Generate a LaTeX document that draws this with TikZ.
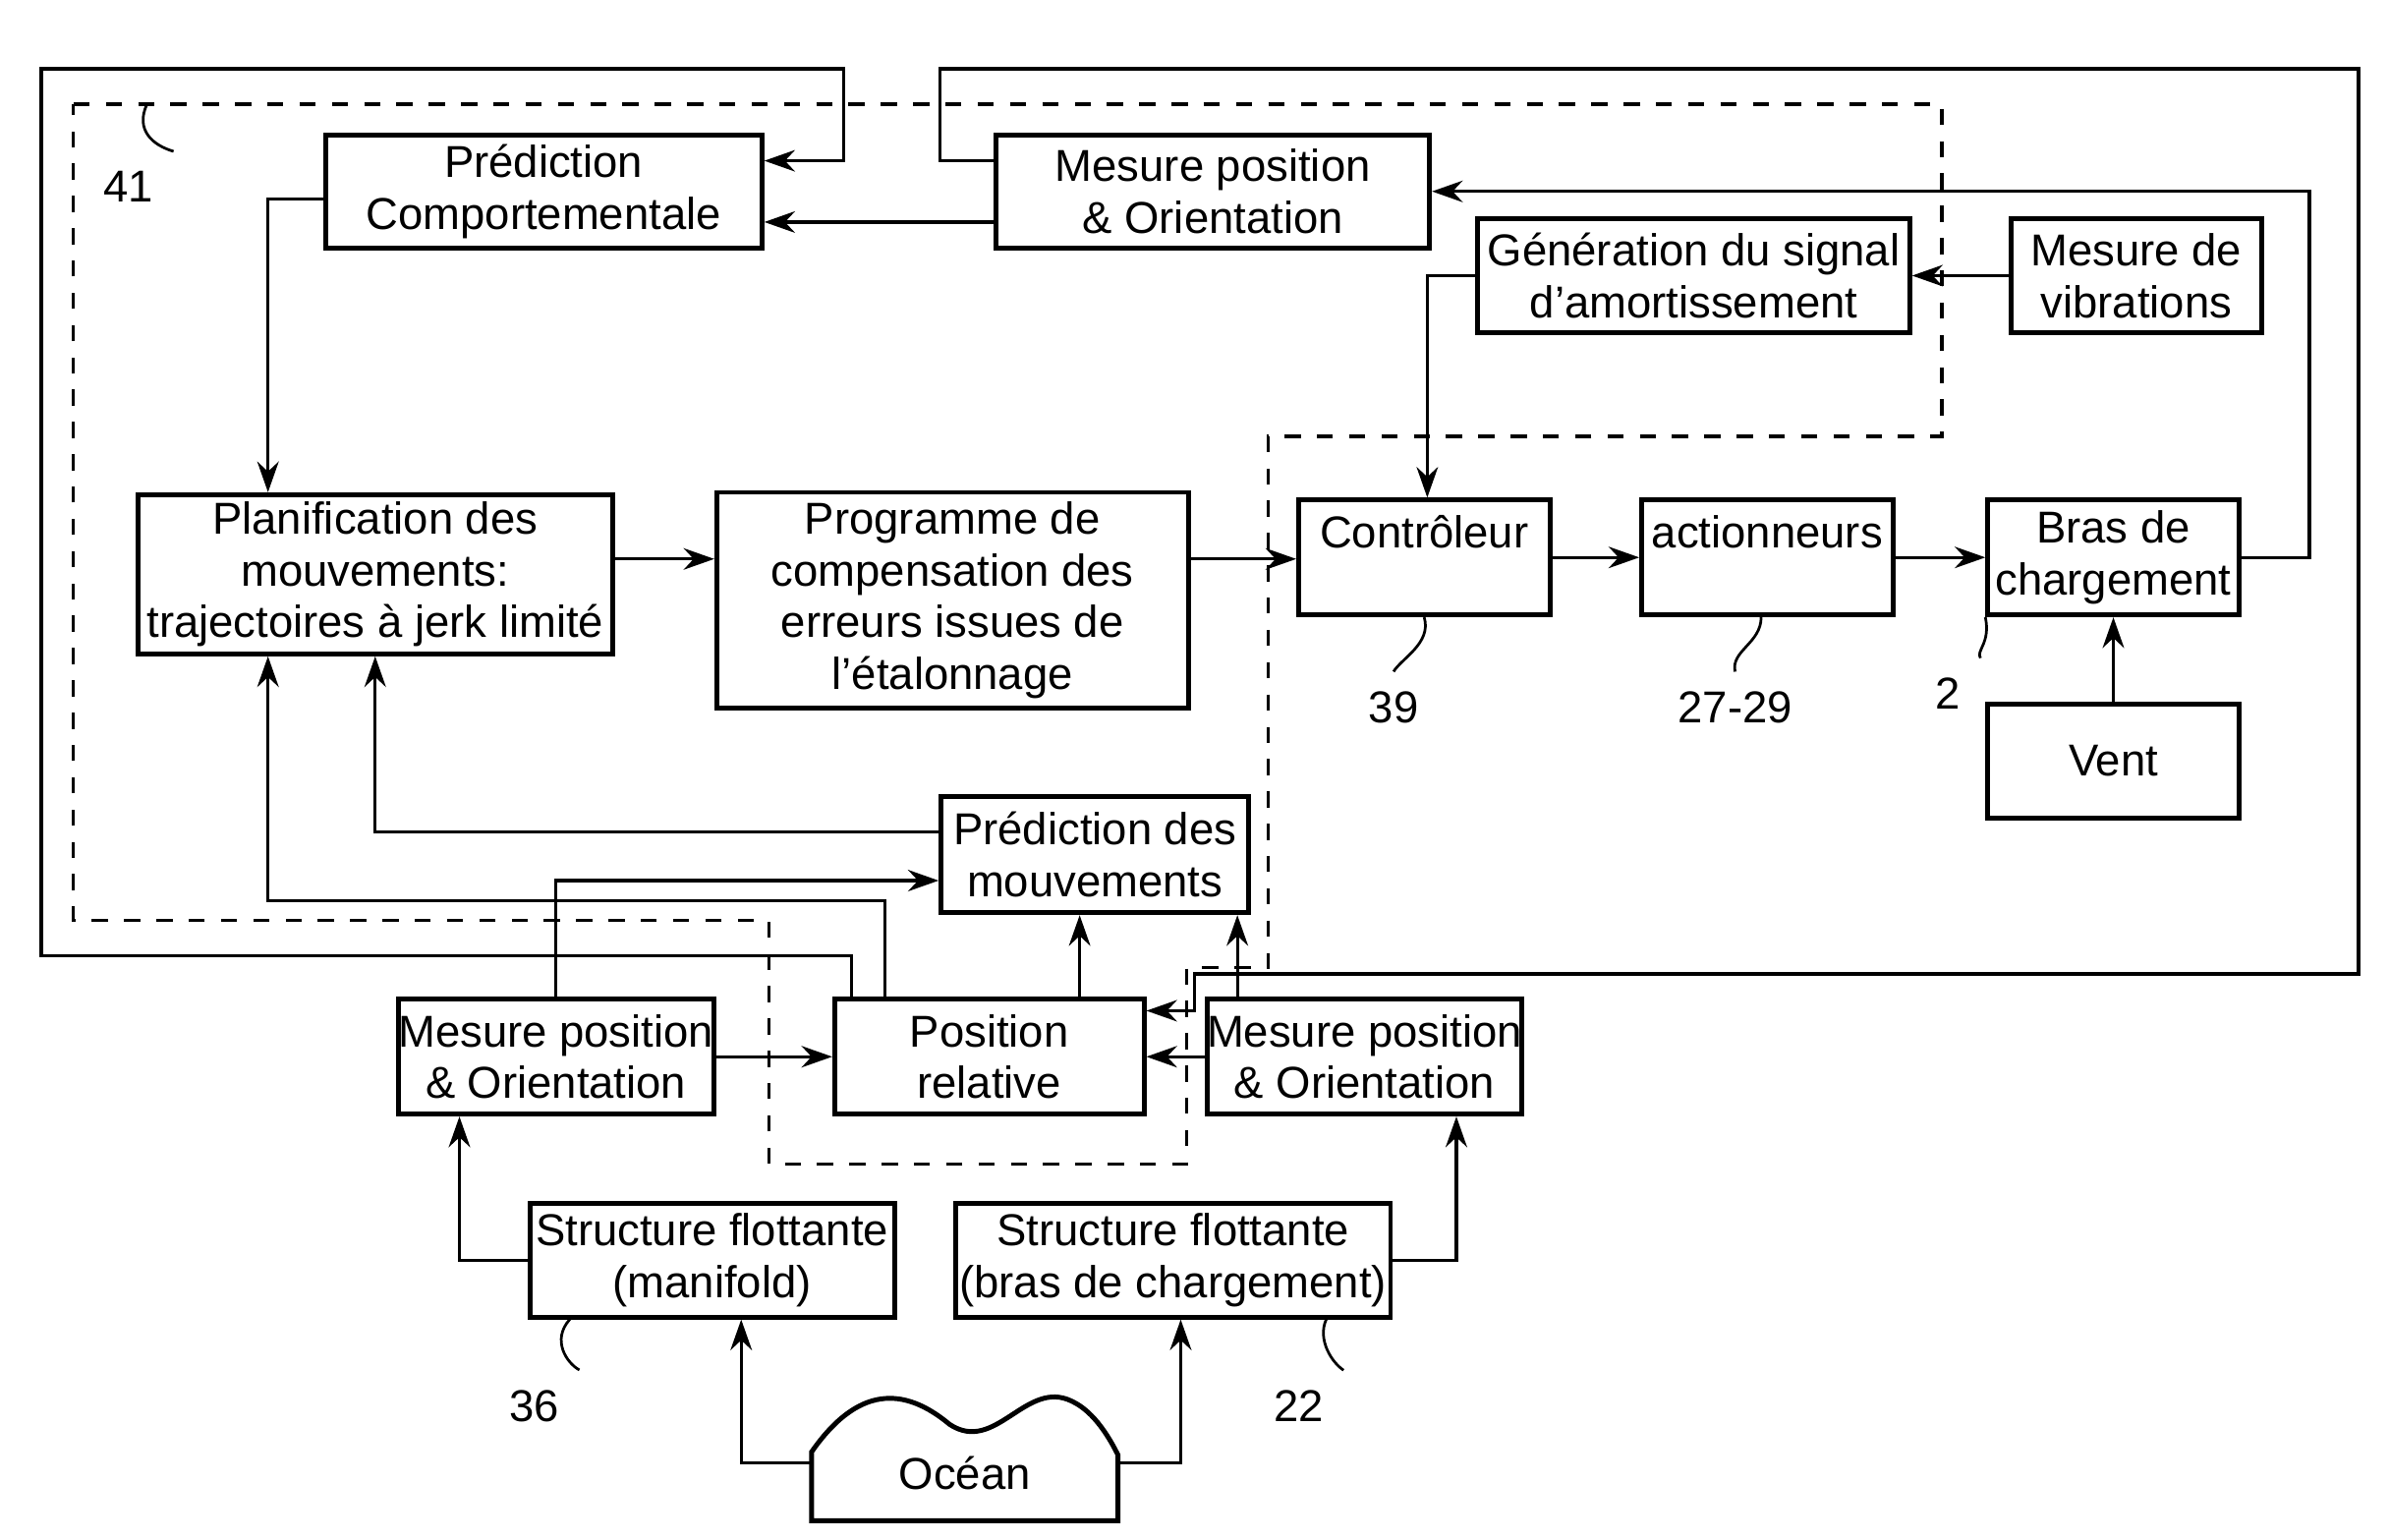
\documentclass[tikz,border=0pt]{standalone}
\usepackage{fontspec}
\setmainfont{Liberation Sans}
\usetikzlibrary{arrows.meta}

\begin{document}
\begin{tikzpicture}[x=0.1mm, y=-0.1mm, thick, >={Stealth[length=2mm,width=1.4mm]},
	box/.style = {draw, line width=0.9pt, align=center, inner sep=0pt, font=\fontsize{8.3}{9.6}\selectfont},
	arr/.style = {->, line width=0.6pt},
	tag/.style = {font=\fontsize{8.3}{9.6}\selectfont},
	squig/.style = {line width=0.5pt}]
	\useasboundingbox (0,0) rectangle (1560,1005);
	% blocks
	\node [box, minimum width=28.5mm, minimum height=7.4mm] (predC) at (355,125) {Prédiction\\Comportementale};
	\node [box, minimum width=28.3mm, minimum height=7.4mm] (mesTop) at (792,125) {Mesure position\\\& Orientation};
	\node [box, minimum width=28.2mm, minimum height=7.4mm] (gen) at (1106,180) {Génération du signal\\d'amortissement};
	\node [box, minimum width=16.4mm, minimum height=7.4mm] (vib) at (1395,180) {Mesure de\\vibrations};
	\node [box, minimum width=31mm, minimum height=10.4mm] (plan) at (245,375) {Planification des\\mouvements:\\trajectoires à jerk limité};
	\node [box, minimum width=30.8mm, minimum height=14.1mm] (prog) at (622,392) {Programme de\\compensation des\\erreurs issues de\\l'étalonnage};
	\node [box, minimum width=16.4mm, minimum height=7.5mm] (ctrl) at (930,364) {Contrôleur\\ \mbox{}};
	\node [box, minimum width=16.4mm, minimum height=7.5mm] (act) at (1154,364) {actionneurs\\ \mbox{}};
	\node [box, minimum width=16.4mm, minimum height=7.5mm] (bras) at (1380,364) {Bras de\\chargement};
	\node [box, minimum width=16.4mm, minimum height=7.4mm] (vent) at (1380,497) {Vent};
	\node [box, minimum width=20.1mm, minimum height=7.6mm] (predM) at (715,558) {Prédiction des\\mouvements};
	\node [box, minimum width=20.2mm, minimum height=7.5mm] (posrel) at (646,690) {Position\\relative};
	\node [box, minimum width=20.2mm, minimum height=7.5mm] (mesL) at (363,690) {Mesure position\\\& Orientation};
	\node [box, minimum width=20.2mm, minimum height=7.5mm] (mesR) at (891,690) {Mesure position\\\& Orientation};
	\node [box, minimum width=23.8mm, minimum height=7.4mm] (sfm) at (465,823) {Structure flottante\\(manifold)};
	\node [box, minimum width=28.4mm, minimum height=7.4mm] (sfb) at (766,823) {Structure flottante\\(bras de chargement)};
	% ocean
	\draw [line width=0.9pt] (530,948) .. controls (560,905) and (590,905) .. (620,930)
		.. controls (650,950) and (670,900) .. (700,915) .. controls (715,922) and (725,940) .. (730,950)
		-- (730,993) -- (530,993) -- cycle;
	\node [tag] (ocean) at (630,962) {Océan};
	\coordinate (oL) at (530,955);
	\coordinate (oR) at (730,955);
	% region 41
	\draw [dashed, line width=0.6pt] (48,68) -- (1268,68) -- (1268,285) -- (828,285) -- (828,632)
		-- (775,632) -- (775,760) -- (502,760) -- (502,601) -- (48,601) -- cycle;
	% connectors
	\draw [arr] (mesTop.west |- 0,145) -- (predC.east |- 0,145);
	\draw [arr] (predC.west |- 0,130) -| (plan.north -| 175,0);
	\draw [arr] (vib.west) -- (gen.east);
	\draw [arr] (gen.west) -| (ctrl.north -| 932,0);
	\draw [arr] (plan.east |- 0,365) -- (prog.west |- 0,365);
	\draw [arr] (prog.east |- 0,365) -- (ctrl.west |- 0,365);
	\draw [arr] (ctrl.east) -- (act.west);
	\draw [arr] (act.east) -- (bras.west);
	\draw [arr] (vent) -- (bras);
	\draw [arr] (bras.east) -- (1508,364) |- (mesTop.east |- 0,125);
	\draw [arr] (predM.west |- 0,543) -| (plan.south);
	\draw [arr] (posrel.north -| 578,0) |- (175,588) -- (plan.south -| 175,0);
	\draw [arr] (mesL.north) |- (predM.west |- 0,575);
	\draw [arr] (posrel.north -| 705,0) -- (predM.south -| 705,0);
	\draw [arr] (mesR.north -| 808,0) -- (predM.south -| 808,0);
	\draw [arr] (mesL.east) -- (posrel.west);
	\draw [arr] (mesR.west) -- (posrel.east);
	\draw [arr] (posrel.north -| 556,0) |- (27,624) -- (27,45) -| (551,105) -- (predC.east |- 0,105);
	\draw [arr] (mesTop.west |- 0,105) -| (614,45) -| (1540,636) -| (780,660) -- (posrel.east |- 0,660);
	\draw [arr] (sfm.west) -| (mesL.south -| 300,0);
	\draw [arr] (sfb.east) -| (mesR.south -| 951,0);
	\draw [arr] (oL) -| (sfm.south -| 484,0);
	\draw [arr] (oR) -| (sfb.south -| 771,0);
	% reference numbers
	\node [tag] (n41) at (84,122) {41};
	\node [tag] (n39) at (910,462) {39};
	\node [tag] (n27) at (1133,462) {27-29};
	\node [tag] (n2) at (1272,453) {2};
	\node [tag] (n36) at (349,918) {36};
	\node [tag] (n22) at (848,918) {22};
	\draw [squig] (n41.north east) .. controls (100,95) and (88,85) .. (96,68);
	\draw [squig] (n39.north) .. controls (915,430) and (935,420) .. (ctrl.south);
	\draw [squig] (n27.north) .. controls (1130,425) and (1150,420) .. (act.south -| 1150,0);
	\draw [squig] (n2.north east) .. controls (1290,425) and (1300,420) .. (bras.south west);
	\draw [squig] (n36.north east) .. controls (370,890) and (360,875) .. (sfm.south -| 372,0);
	\draw [squig] (n22.north east) .. controls (870,890) and (860,875) .. (sfb.south -| 866,0);
\end{tikzpicture}
\end{document}
